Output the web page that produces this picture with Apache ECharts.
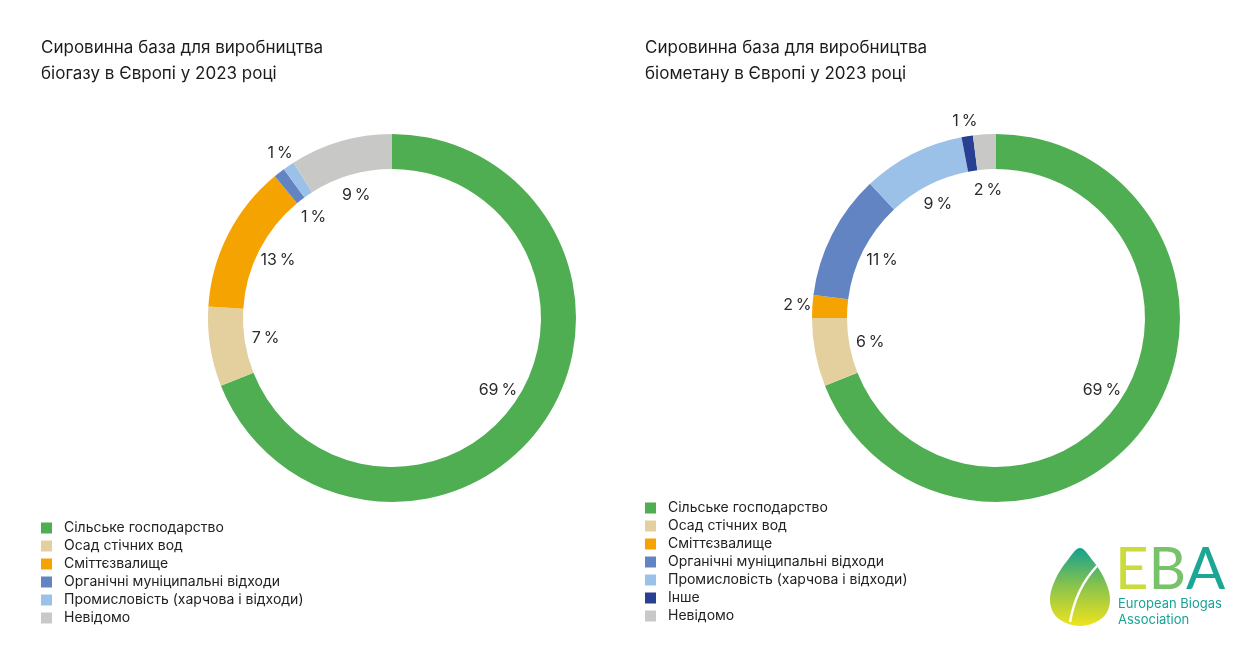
<!DOCTYPE html>
<html>
<head>
<meta charset="utf-8">
<script src="https://cdn.jsdelivr.net/npm/echarts@6/dist/echarts.min.js"></script>
<style>
  html, body { margin: 0; padding: 0; background: #fff; }
  #chart { width: 1245px; height: 645px; }
</style>
</head>
<body>
<div id="chart"></div>
<script>
// titles
var leftTitle = 'Сировинна база для виробництва\nбіогазу в Європі у 2023 році';
var rightTitle = 'Сировинна база для виробництва\nбіометану в Європі у 2023 році';

// categories and shares, %
var leftNames = ['Сільське господарство', 'Осад стічних вод', 'Сміттєзвалище',
    'Органічні муніципальні відходи', 'Промисловість (харчова і відходи)', 'Невідомо'];
var leftValues = [69, 7, 13, 1, 1, 9];

var rightNames = ['Сільське господарство', 'Осад стічних вод', 'Сміттєзвалище',
    'Органічні муніципальні відходи', 'Промисловість (харчова і відходи)', 'Інше', 'Невідомо'];
var rightValues = [69, 6, 2, 11, 9, 1, 2];

// which slices get their label outside the ring
var leftOuter = ['Промисловість (харчова і відходи)'];
var rightOuter = ['Сміттєзвалище', 'Інше'];

var colors = {
    'Сільське господарство': '#4fae52',
    'Осад стічних вод': '#e4cf9f',
    'Сміттєзвалище': '#f5a300',
    'Органічні муніципальні відходи': '#6384c2',
    'Промисловість (харчова і відходи)': '#9cc1e8',
    'Інше': '#293f92',
    'Невідомо': '#c8c8c7'
};

var font = 'Inter, "Noto Sans", sans-serif';

function ringData(names, values) {
    return names.map(function (n, i) {
        return { name: n, value: values[i], itemStyle: { color: colors[n] } };
    });
}

// invisible pies only used to place the % labels
function labelData(names, values, outer, wantOuter) {
    return names.map(function (n, i) {
        var isOuter = outer.indexOf(n) >= 0;
        return {
            name: n,
            value: values[i],
            label: { show: isOuter === wantOuter }
        };
    });
}

function ring(center, names, values) {
    return {
        type: 'pie',
        center: center,
        radius: [149, 184],
        startAngle: 90,
        clockwise: true,
        silent: true,
        label: { show: false },
        labelLine: { show: false },
        emphasis: { disabled: true },
        data: ringData(names, values)
    };
}

function labelRing(center, radius, names, values, outer, wantOuter) {
    return {
        type: 'pie',
        center: center,
        radius: radius,
        startAngle: 90,
        clockwise: true,
        silent: true,
        legendHoverLink: false,
        itemStyle: { color: 'rgba(0,0,0,0)' },
        emphasis: { disabled: true },
        label: {
            position: 'inside',
            color: '#2b2b2b',
            fontFamily: font,
            fontSize: 16,
            formatter: function (p) { return p.value + '\u2009%'; }
        },
        labelLine: { show: false },
        data: labelData(names, values, outer, wantOuter)
    };
}

function legendOf(names, left, top) {
    return {
        orient: 'vertical',
        left: left,
        top: top,
        padding: 0,
        icon: 'rect',
        itemWidth: 11,
        itemHeight: 11,
        itemGap: 0,
        selectedMode: false,
        textStyle: {
            fontFamily: font,
            fontSize: 14,
            color: '#222',
            lineHeight: 18,
            padding: [0, 0, 0, 7]
        },
        data: names.map(function (n) {
            return { name: n, itemStyle: { color: colors[n] } };
        })
    };
}

var L = [392, 318], R = [996, 318];

var titleStyle = { fontFamily: font, fontSize: 17, fontWeight: 'normal', color: '#1c1c1c', lineHeight: 26 };
var logoFont = 'Lato, Inter, sans-serif';

var option = {
    animation: false,
    backgroundColor: '#fff',
    title: [
        { text: leftTitle, left: 36, top: 30, textStyle: titleStyle },
        { text: rightTitle, left: 640, top: 30, textStyle: titleStyle }
    ],
    legend: [
        legendOf(leftNames, 41, 519),
        legendOf(rightNames, 645, 499)
    ],
    series: [
        ring(L, leftNames, leftValues),
        ring(R, rightNames, rightValues),
        labelRing(L, [96, 154], leftNames, leftValues, leftOuter, false),
        labelRing(L, [180, 212], leftNames, leftValues, leftOuter, true),
        labelRing(R, [96, 154], rightNames, rightValues, rightOuter, false),
        labelRing(R, [180, 212], rightNames, rightValues, rightOuter, true)
    ],
    graphic: [
        // EBA logo: leaf
        {
            type: 'polygon',
            shape: {
                points: [[1080, 548], [1093, 561], [1104, 578], [1110, 598], [1106, 614], [1094, 623],
                         [1080, 626], [1066, 623], [1054, 614], [1050, 598], [1056, 578], [1067, 561]],
                smooth: 0.35
            },
            style: {
                fill: new echarts.graphic.LinearGradient(0, 0, 0, 1, [
                    { offset: 0, color: '#14a08f' },
                    { offset: 0.5, color: '#8cc44a' },
                    { offset: 1, color: '#f0e31e' }
                ])
            }
        },
        {
            type: 'bezierCurve',
            shape: { x1: 1097, y1: 566, cpx1: 1076, cpy1: 588, x2: 1070, y2: 622 },
            style: { fill: null, stroke: '#fff', lineWidth: 2.5 }
        },
        {
            type: 'text', left: 1115, top: 541,
            style: {
                text: '{e|E}{b|B}{a|A}',
                fontFamily: logoFont, fontSize: 58,
                rich: {
                    e: { fontFamily: logoFont, fontSize: 58, fill: '#cbdb3c' },
                    b: { fontFamily: logoFont, fontSize: 58, fill: '#78c26a' },
                    a: { fontFamily: logoFont, fontSize: 58, fill: '#1ba793' }
                }
            }
        },
        {
            type: 'text', left: 1118, top: 596,
            style: { text: 'European Biogas\nAssociation', fontFamily: font, fontSize: 13,
                     lineHeight: 16, fill: '#19a396' }
        }
    ]
};

var myChart = echarts.init(document.getElementById('chart'));
myChart.setOption(option);
</script>
</body>
</html>
